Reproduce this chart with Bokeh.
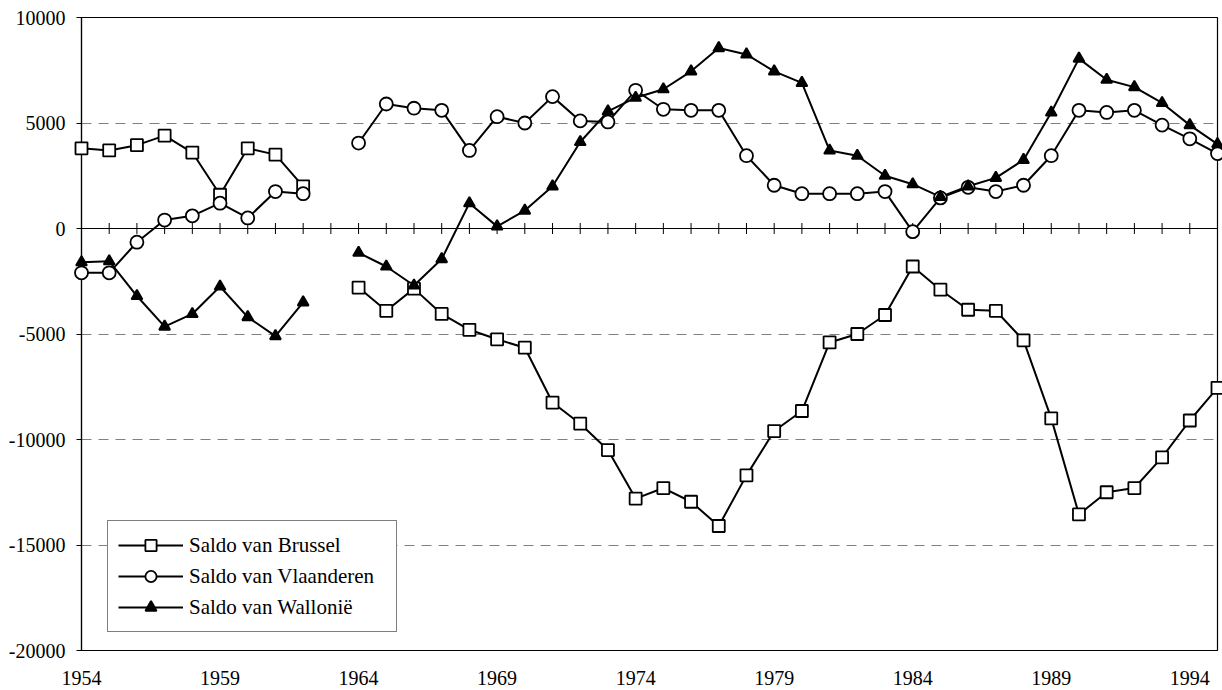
import math
from bokeh.plotting import figure
from bokeh.models import Range1d, FixedTicker, Legend, LegendItem, Span
from bokeh.embed import file_html
from bokeh.resources import INLINE

nan = float("nan")

years = [1954, 1955, 1956, 1957, 1958, 1959, 1960, 1961, 1962, 1963,
         1964, 1965, 1966, 1967, 1968, 1969, 1970, 1971, 1972, 1973,
         1974, 1975, 1976, 1977, 1978, 1979, 1980, 1981, 1982, 1983,
         1984, 1985, 1986, 1987, 1988, 1989, 1990, 1991, 1992, 1993,
         1994, 1995]

saldo_brussel = [3800, 3700, 3950, 4400, 3600, 1600, 3800, 3500, 2000, nan,
                 -2800, -3900, -2850, -4050, -4800, -5250, -5650, -8250, -9250, -10500,
                 -12800, -12300, -12950, -14100, -11700, -9600, -8650, -5400, -5000, -4100,
                 -1800, -2900, -3850, -3900, -5300, -9000, -13550, -12500, -12300, -10850,
                 -9100, -7550]

saldo_vlaanderen = [-2100, -2100, -650, 400, 600, 1200, 500, 1750, 1650, nan,
                    4050, 5900, 5700, 5600, 3700, 5300, 5000, 6250, 5100, 5050,
                    6550, 5650, 5600, 5600, 3450, 2050, 1650, 1650, 1650, 1750,
                    -150, 1450, 1950, 1750, 2050, 3450, 5600, 5500, 5600, 4900,
                    4250, 3550]

saldo_wallonie = [-1600, -1550, -3200, -4650, -4050, -2750, -4200, -5100, -3500, nan,
                  -1150, -1800, -2700, -1450, 1200, 100, 850, 2000, 4100, 5550,
                  6200, 6600, 7450, 8550, 8250, 7450, 6900, 3700, 3450, 2500,
                  2100, 1500, 2000, 2400, 3250, 5500, 8050, 7050, 6700, 5950,
                  4900, 4000]

series_labels = ["Saldo van Brussel", "Saldo van Vlaanderen", "Saldo van Wallonië"]

x_ticks = [1954, 1959, 1964, 1969, 1974, 1979, 1984, 1989, 1994]
y_ticks = [-20000, -15000, -10000, -5000, 0, 5000, 10000]

FONT = "Liberation Serif"

p = figure(width=1222, height=690, output_backend="svg", toolbar_location=None,
           x_range=Range1d(1954, 1995), y_range=Range1d(-20000, 10000),
           min_border_left=81, min_border_right=5, min_border_top=17,
           min_border_bottom=40)
p.background_fill_color = "white"
p.border_fill_color = "white"
p.outline_line_color = "black"
p.outline_line_width = 1.2
p.outline_line_alpha = 1.0

# x axis (labels only, at the bottom)
p.xaxis.ticker = FixedTicker(ticks=x_ticks)
p.xaxis.major_label_overrides = {t: str(t) for t in x_ticks}
p.xaxis.axis_line_color = None
p.xaxis.major_tick_line_color = None
p.xaxis.minor_tick_line_color = None
p.xaxis.major_label_text_font = FONT
p.xaxis.major_label_text_font_size = "20px"
p.xaxis.major_label_text_color = "black"
p.xaxis.major_label_standoff = 14

# y axis
p.yaxis.ticker = FixedTicker(ticks=y_ticks)
p.yaxis.major_label_overrides = {t: str(t) for t in y_ticks}
p.yaxis.axis_line_color = "black"
p.yaxis.axis_line_width = 1.2
p.yaxis.major_tick_line_color = "black"
p.yaxis.major_tick_out = 5
p.yaxis.major_tick_in = 0
p.yaxis.minor_tick_line_color = None
p.yaxis.major_label_text_font = FONT
p.yaxis.major_label_text_font_size = "20px"
p.yaxis.major_label_text_color = "black"
p.yaxis.major_label_standoff = 11

p.xgrid.grid_line_color = None
p.ygrid.grid_line_color = "#808080"
p.ygrid.grid_line_dash = "10 7"
p.ygrid.grid_line_width = 1

# category axis crossing at zero, with cross tick marks every year
p.add_layout(Span(location=0, dimension="width", line_color="black", line_width=1.2))
p.scatter(x=years, y=[0] * len(years), marker="dash", angle=math.pi / 2, size=11,
          line_color="black", line_width=1)

items = []
styles = [
    (saldo_brussel, "square", "white", 12),
    (saldo_vlaanderen, "circle", "white", 13),
    (saldo_wallonie, "triangle", "black", 11),
]
for (vals, marker, fill, size), label in zip(styles, series_labels):
    ln = p.line(years, vals, line_color="black", line_width=2)
    sc = p.scatter(years, vals, marker=marker, size=size, fill_color=fill,
                   line_color="black", line_width=1.8, level="overlay")
    items.append(LegendItem(label=label, renderers=[ln, sc]))

legend = Legend(items=items, location=(26, 18), orientation="vertical",
                glyph_width=65, glyph_height=28, label_height=28, label_width=197,
                label_standoff=6, padding=10, spacing=3, margin=0,
                border_line_color="black", border_line_width=1.2,
                background_fill_color="white", background_fill_alpha=1.0,
                label_text_font=FONT, label_text_font_size="21px",
                label_text_color="black")
p.add_layout(legend)

open("out.html", "w").write(file_html(p, INLINE))
